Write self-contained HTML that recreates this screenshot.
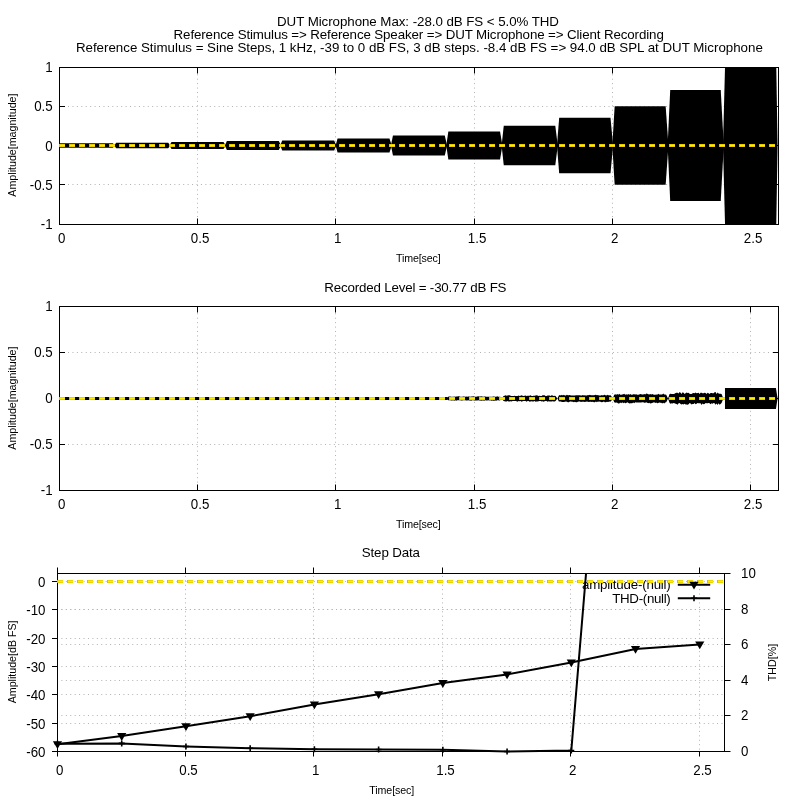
<!DOCTYPE html>
<html lang="en"><head><meta charset="utf-8"><title>DUT Microphone Max</title>
<style>html,body{margin:0;padding:0;background:#fff}svg{display:block}text{font-family:'Liberation Sans', Arial, sans-serif;font-size:13.33px;fill:#000}.s{font-size:10.67px}.m{text-anchor:middle}.e{text-anchor:end}.g{stroke:#b2b2b2;stroke-width:1;stroke-dasharray:1 3.43;fill:none}.b{stroke:#000;stroke-width:1;fill:none}.y{stroke:#dfc000;stroke-width:3;stroke-dasharray:6 4;fill:none}.y2{stroke:#fff000;stroke-width:1.4;stroke-dasharray:5 5;stroke-dashoffset:-0.5;fill:none}</style></head><body>
<svg width="800" height="800" viewBox="0 0 800 800">
<rect width="800" height="800" fill="#fff"/>
<text x="277" y="26.1" textLength="282">DUT Microphone Max: -28.0 dB FS &lt; 5.0% THD</text>
<text x="173.6" y="39.15" textLength="490.2">Reference Stimulus =&gt; Reference Speaker =&gt; DUT Microphone =&gt; Client Recording</text>
<text x="75.9" y="51.6" textLength="686.9">Reference Stimulus = Sine Steps, 1 kHz, -39 to 0 dB FS, 3 dB steps. -8.4 dB FS =&gt; 94.0 dB SPL at DUT Microphone</text>
<g id="chart1">
<path class="g" d="M197.50 69.85V223.5"/>
<path class="g" d="M335.50 69.85V223.5"/>
<path class="g" d="M474.50 69.85V223.5"/>
<path class="g" d="M612.50 69.85V223.5"/>
<path class="g" d="M750.50 69.85V223.5"/>
<path class="g" d="M63.60 106.50H777.5"/>
<path class="g" d="M63.60 184.50H777.5"/>
<path class="b" d="M59.50 224.5v-6M59.50 67.5v6M197.50 224.5v-6M197.50 67.5v6M335.50 224.5v-6M335.50 67.5v6M474.50 224.5v-6M474.50 67.5v6M612.50 224.5v-6M612.50 67.5v6M750.50 224.5v-6M750.50 67.5v6M59.5 67.50h5.5M778.5 67.50h-5.5M59.5 106.50h5.5M778.5 106.50h-5.5M59.5 145.50h5.5M778.5 145.50h-5.5M59.5 184.50h5.5M778.5 184.50h-5.5M59.5 224.50h5.5M778.5 224.50h-5.5"/>
<clipPath id="cp1"><rect x="59.5" y="67.5" width="719.0" height="157.0"/></clipPath>
<g clip-path="url(#cp1)" fill="#000">
<path d="M55.10 145.50L57.03 143.30H112.85L115.04 145.50L112.85 147.70H57.03Z"/>
<path d="M114.24 145.50L116.17 142.70H168.19L170.38 145.50L168.19 148.30H116.17Z"/>
<path d="M169.58 145.50L171.52 141.90H223.51L225.72 145.50L223.51 149.10H171.52Z"/>
<path d="M224.92 145.50L226.87 141.00H278.84L281.06 145.50L278.84 150.00H226.87Z"/>
<path d="M280.26 145.50L282.22 140.40H334.17L336.40 145.50L334.17 150.60H282.22Z"/>
<path d="M335.60 145.50L337.58 138.50H389.48L391.74 145.50L389.48 152.50H337.58Z"/>
<path d="M390.94 145.50L392.96 135.60H444.77L447.08 145.50L444.77 155.40H392.96Z"/>
<path d="M446.28 145.50L448.35 131.50H500.05L502.42 145.50L500.05 159.50H448.35Z"/>
<path d="M501.62 145.50L503.76 125.80H555.29L557.76 145.50L555.29 165.20H503.76Z"/>
<path d="M556.96 145.50L559.19 117.65H610.50L613.10 145.50L610.50 173.35H559.19Z"/>
<path d="M612.30 145.50L614.67 106.20H665.66L668.44 145.50L665.66 184.80H614.67Z"/>
<path d="M667.64 145.50L670.21 90.00H720.74L723.78 145.50L720.74 201.00H670.21Z"/>
<path d="M722.98 145.50L725.58 45.50H775.90L777.60 145.50L775.90 245.50H725.58Z"/>
</g>
<rect class="b" x="59.5" y="67.5" width="719.0" height="157.0"/>
<path class="y" d="M59.0 145.50H778.0"/>
<path class="y2" d="M59.5 145.50H778.0"/>
<text class="e" transform="translate(52.70 72.20) scale(1 1.09)">1</text>
<text class="e" transform="translate(52.70 111.20) scale(1 1.09)">0.5</text>
<text class="e" transform="translate(52.70 151.20) scale(1 1.09)">0</text>
<text class="e" transform="translate(52.70 190.20) scale(1 1.09)">-0.5</text>
<text class="e" transform="translate(52.70 229.20) scale(1 1.09)">-1</text>
<text class="m" transform="translate(61.60 242.80) scale(1 1.09)">0</text>
<text class="m" transform="translate(200.10 242.80) scale(1 1.09)">0.5</text>
<text class="m" transform="translate(337.60 242.80) scale(1 1.09)">1</text>
<text class="m" transform="translate(477.10 242.80) scale(1 1.09)">1.5</text>
<text class="m" transform="translate(614.60 242.80) scale(1 1.09)">2</text>
<text class="m" transform="translate(753.10 242.80) scale(1 1.09)">2.5</text>
<text class="s" x="395.9" y="261.90" textLength="44.9">Time[sec]</text>
<text class="s m" transform="translate(15.8 145.10) rotate(-90)">Amplitude[magnitude]</text>
</g>
<g id="chart2">
<path class="g" d="M197.50 308.85V489.5"/>
<path class="g" d="M335.50 308.85V489.5"/>
<path class="g" d="M474.50 308.85V489.5"/>
<path class="g" d="M612.50 308.85V489.5"/>
<path class="g" d="M750.50 308.85V489.5"/>
<path class="g" d="M63.60 352.50H777.5"/>
<path class="g" d="M63.60 444.50H777.5"/>
<path class="b" d="M59.50 490.5v-6M59.50 306.5v6M197.50 490.5v-6M197.50 306.5v6M335.50 490.5v-6M335.50 306.5v6M474.50 490.5v-6M474.50 306.5v6M612.50 490.5v-6M612.50 306.5v6M750.50 490.5v-6M750.50 306.5v6M59.5 306.50h5.5M778.5 306.50h-5.5M59.5 352.50h5.5M778.5 352.50h-5.5M59.5 398.50h5.5M778.5 398.50h-5.5M59.5 444.50h5.5M778.5 444.50h-5.5M59.5 490.50h5.5M778.5 490.50h-5.5"/>
<clipPath id="cp2"><rect x="59.5" y="306.5" width="719.0" height="184.0"/></clipPath>
<g clip-path="url(#cp2)" fill="#000">
<path d="M54.50 397.00H115.64V400.00H54.50Z"/>
<path d="M113.64 397.00H170.98V400.00H113.64Z"/>
<path d="M168.98 397.00H226.32V400.00H168.98Z"/>
<path d="M224.32 397.00H281.66V400.00H224.32Z"/>
<path d="M279.66 397.00H337.00V400.00H279.66Z"/>
<path d="M335.00 396.95H392.34V400.05H335.00Z"/>
<path d="M390.34 396.90H447.68V400.10H390.34Z"/>
<path d="M446.68 398.50L448.20 396.75L449.20 396.49L450.20 396.55L451.20 396.74L452.20 396.75L453.20 396.74L454.21 396.61L455.21 396.73L456.21 396.50L457.21 396.53L458.21 396.27L459.21 396.35L460.21 396.72L461.21 396.66L462.21 396.71L463.21 396.49L464.21 396.55L465.21 396.74L466.22 396.47L467.22 396.66L468.22 396.60L469.22 396.40L470.22 396.69L471.22 396.56L472.22 396.44L473.22 396.26L474.22 396.61L475.22 396.72L476.22 396.75L477.22 396.42L478.22 396.34L479.23 396.46L480.23 396.53L481.23 396.37L482.23 396.59L483.23 396.74L484.23 396.49L485.23 396.38L486.23 396.63L487.23 396.75L488.23 396.72L489.23 396.74L490.23 396.73L491.23 396.63L492.24 396.74L493.24 396.55L494.24 396.38L495.24 396.68L496.24 396.64L497.24 396.28L498.24 396.71L499.24 396.69L500.24 396.75L502.02 398.50L500.24 400.25L499.24 400.42L498.24 400.31L497.24 400.28L496.24 400.67L495.24 400.38L494.24 400.65L493.24 400.67L492.24 400.40L491.23 400.66L490.23 400.31L489.23 400.59L488.23 400.27L487.23 400.41L486.23 400.52L485.23 400.33L484.23 400.74L483.23 400.54L482.23 400.52L481.23 400.71L480.23 400.40L479.23 400.48L478.22 400.34L477.22 400.47L476.22 400.52L475.22 400.42L474.22 400.58L473.22 400.27L472.22 400.33L471.22 400.66L470.22 400.47L469.22 400.54L468.22 400.33L467.22 400.47L466.22 400.39L465.21 400.30L464.21 400.26L463.21 400.36L462.21 400.47L461.21 400.62L460.21 400.27L459.21 400.33L458.21 400.26L457.21 400.37L456.21 400.71L455.21 400.30L454.21 400.63L453.20 400.26L452.20 400.39L451.20 400.43L450.20 400.36L449.20 400.26L448.20 400.25Z"/>
<path d="M502.02 398.50L503.55 396.00L504.55 395.82L505.55 395.26L506.55 395.70L507.55 395.56L508.55 395.32L509.55 395.35L510.55 395.80L511.55 395.97L512.55 395.99L513.55 395.92L514.55 395.84L515.55 396.00L516.56 395.97L517.56 396.00L518.56 395.62L519.56 395.90L520.56 395.82L521.56 395.37L522.56 395.75L523.56 395.98L524.56 395.84L525.56 395.40L526.56 396.00L527.56 395.69L528.56 395.68L529.56 395.69L530.56 395.36L531.56 395.89L532.56 395.95L533.56 395.69L534.56 395.85L535.56 395.42L536.56 395.37L537.56 395.41L538.56 395.91L539.56 395.83L540.56 396.00L541.56 395.89L542.56 395.25L543.57 395.27L544.57 395.25L545.57 395.92L546.57 395.93L547.57 395.61L548.57 395.38L549.57 395.58L550.57 395.98L551.57 395.31L552.57 395.48L553.57 395.94L554.57 395.85L555.57 396.00L557.36 398.50L555.57 401.00L554.57 401.57L553.57 401.56L552.57 401.26L551.57 401.55L550.57 401.43L549.57 401.57L548.57 401.27L547.57 401.68L546.57 401.07L545.57 401.09L544.57 401.18L543.57 401.79L542.56 401.24L541.56 401.46L540.56 401.12L539.56 401.00L538.56 401.30L537.56 401.51L536.56 401.58L535.56 401.78L534.56 401.08L533.56 401.55L532.56 401.54L531.56 401.18L530.56 401.46L529.56 401.77L528.56 401.00L527.56 401.04L526.56 401.74L525.56 401.05L524.56 401.11L523.56 401.03L522.56 401.27L521.56 401.79L520.56 401.03L519.56 401.16L518.56 401.05L517.56 401.65L516.56 401.18L515.55 401.05L514.55 401.01L513.55 401.05L512.55 401.01L511.55 401.40L510.55 401.20L509.55 401.57L508.55 401.55L507.55 401.01L506.55 401.39L505.55 401.46L504.55 401.34L503.55 401.00Z"/>
<path d="M557.36 398.50L558.89 395.60L559.89 395.04L560.90 395.56L561.90 394.83L562.90 395.55L563.90 394.73L564.90 395.41L565.90 395.56L566.90 394.74L567.90 395.26L568.90 395.34L569.90 394.92L570.90 395.49L571.90 395.49L572.90 395.48L573.90 395.56L574.90 395.41L575.90 395.20L576.90 395.35L577.90 395.28L578.90 395.26L579.90 395.34L580.90 395.60L581.90 395.54L582.90 395.04L583.90 395.43L584.90 395.23L585.90 395.57L586.90 395.49L587.90 394.99L588.90 395.22L589.90 394.82L590.90 395.17L591.90 395.27L592.90 395.33L593.90 395.30L594.90 395.07L595.90 394.78L596.90 395.22L597.90 394.91L598.90 395.56L599.90 395.58L600.90 395.58L601.90 394.98L602.90 395.55L603.90 395.12L604.90 394.85L605.90 395.51L606.90 395.37L607.90 394.71L608.90 395.54L609.90 395.27L610.90 395.60L612.70 398.50L610.90 401.40L609.90 401.58L608.90 401.66L607.90 402.08L606.90 401.71L605.90 402.24L604.90 402.26L603.90 401.45L602.90 401.95L601.90 402.16L600.90 401.89L599.90 401.51L598.90 401.66L597.90 401.45L596.90 402.22L595.90 401.52L594.90 402.14L593.90 402.22L592.90 401.75L591.90 401.92L590.90 401.72L589.90 401.67L588.90 402.00L587.90 401.73L586.90 401.53L585.90 401.78L584.90 402.03L583.90 401.74L582.90 401.77L581.90 401.69L580.90 402.04L579.90 401.47L578.90 401.40L577.90 401.75L576.90 402.19L575.90 402.17L574.90 401.68L573.90 402.18L572.90 401.64L571.90 401.80L570.90 401.54L569.90 401.49L568.90 402.13L567.90 402.21L566.90 401.87L565.90 401.40L564.90 401.77L563.90 401.88L562.90 402.08L561.90 402.05L560.90 401.45L559.89 401.46L558.89 401.40Z"/>
<path d="M612.70 398.50L614.25 394.70L615.25 394.21L616.24 394.70L617.24 394.11L618.24 394.68L619.24 393.86L620.24 394.66L621.24 394.69L622.24 394.53L623.24 394.37L624.24 393.81L625.24 394.63L626.24 394.18L627.24 394.67L628.24 394.01L629.24 394.68L630.24 394.09L631.24 394.67L632.24 394.68L633.24 394.33L634.24 394.21L635.24 394.53L636.24 394.24L637.24 394.66L638.24 394.69L639.24 394.49L640.24 393.91L641.24 394.28L642.24 394.45L643.24 394.55L644.24 393.95L645.24 394.60L646.24 393.62L647.24 393.81L648.23 394.28L649.23 394.40L650.23 394.02L651.23 394.46L652.23 393.99L653.23 394.39L654.23 394.68L655.23 394.68L656.23 394.54L657.23 394.67L658.23 393.73L659.23 394.52L660.23 394.51L661.23 394.62L662.23 394.54L663.23 393.55L664.23 394.55L665.23 394.49L666.23 394.70L668.04 398.50L666.23 402.30L665.23 402.56L664.23 403.44L663.23 402.79L662.23 403.43L661.23 402.66L660.23 402.67L659.23 402.44L658.23 402.96L657.23 403.23L656.23 402.38L655.23 403.07L654.23 402.36L653.23 402.55L652.23 402.91L651.23 403.21L650.23 403.47L649.23 402.73L648.23 403.21L647.24 402.64L646.24 402.34L645.24 402.69L644.24 402.79L643.24 402.30L642.24 402.30L641.24 402.39L640.24 402.49L639.24 402.50L638.24 402.41L637.24 402.38L636.24 402.44L635.24 402.36L634.24 403.37L633.24 402.54L632.24 403.26L631.24 403.25L630.24 403.16L629.24 403.39L628.24 402.63L627.24 402.32L626.24 403.00L625.24 403.36L624.24 402.46L623.24 403.34L622.24 402.36L621.24 403.13L620.24 402.46L619.24 403.45L618.24 403.47L617.24 402.74L616.24 402.53L615.25 402.65L614.25 402.30Z"/>
<path d="M668.04 398.50L669.59 394.00L670.59 393.82L671.59 394.00L672.59 393.95L673.59 393.98L674.59 393.66L675.59 393.10L676.59 392.70L677.59 392.79L678.59 393.51L679.59 392.05L680.59 392.77L681.59 393.98L682.58 392.32L683.58 392.74L684.58 393.90L685.58 393.28L686.58 392.56L687.58 393.11L688.58 392.87L689.58 393.78L690.58 393.90L691.58 393.93L692.58 393.17L693.58 393.01L694.58 393.32L695.58 392.58L696.58 393.29L697.57 392.93L698.57 392.74L699.57 393.96L700.57 392.75L701.57 392.73L702.57 393.31L703.57 393.34L704.57 392.66L705.57 392.97L706.57 393.89L707.57 392.72L708.57 393.14L709.57 393.97L710.57 392.90L711.56 392.89L712.56 393.26L713.56 393.36L714.56 392.31L715.56 392.07L716.56 394.00L717.56 392.52L718.56 393.40L719.56 393.81L720.56 393.81L721.56 394.00L723.38 398.50L721.56 403.00L720.56 403.89L719.56 404.84L718.56 403.28L717.56 404.91L716.56 403.62L715.56 404.81L714.56 403.18L713.56 403.08L712.56 403.63L711.56 403.31L710.57 404.15L709.57 403.28L708.57 403.00L707.57 403.34L706.57 403.26L705.57 403.04L704.57 403.97L703.57 404.13L702.57 403.47L701.57 404.93L700.57 403.19L699.57 403.27L698.57 403.25L697.57 403.03L696.58 403.78L695.58 404.29L694.58 403.00L693.58 404.12L692.58 403.99L691.58 404.53L690.58 403.43L689.58 403.01L688.58 404.15L687.58 404.69L686.58 404.50L685.58 404.53L684.58 403.76L683.58 404.46L682.58 403.99L681.59 404.53L680.59 404.03L679.59 403.12L678.59 403.37L677.59 404.65L676.59 404.07L675.59 403.77L674.59 403.22L673.59 403.01L672.59 403.51L671.59 403.27L670.59 403.72L669.59 403.00Z"/>
<path d="M724.98 388.10H775.90L777.60 398.50L775.90 408.90H724.98Z"/>
</g>
<rect class="b" x="59.5" y="306.5" width="719.0" height="184.0"/>
<path class="y" d="M59.0 398.50H778.0"/>
<path class="y2" d="M59.5 398.50H778.0"/>
<text class="e" transform="translate(52.70 311.20) scale(1 1.09)">1</text>
<text class="e" transform="translate(52.70 357.20) scale(1 1.09)">0.5</text>
<text class="e" transform="translate(52.70 403.20) scale(1 1.09)">0</text>
<text class="e" transform="translate(52.70 449.20) scale(1 1.09)">-0.5</text>
<text class="e" transform="translate(52.70 495.20) scale(1 1.09)">-1</text>
<text class="m" transform="translate(61.60 508.80) scale(1 1.09)">0</text>
<text class="m" transform="translate(200.10 508.80) scale(1 1.09)">0.5</text>
<text class="m" transform="translate(337.60 508.80) scale(1 1.09)">1</text>
<text class="m" transform="translate(477.10 508.80) scale(1 1.09)">1.5</text>
<text class="m" transform="translate(614.60 508.80) scale(1 1.09)">2</text>
<text class="m" transform="translate(753.10 508.80) scale(1 1.09)">2.5</text>
<text class="s" x="395.9" y="527.90" textLength="44.9">Time[sec]</text>
<text class="s m" transform="translate(15.8 398.10) rotate(-90)">Amplitude[magnitude]</text>
<text x="324.2" y="291.90" textLength="182.3">Recorded Level = -30.77 dB FS</text>
</g>
<g id="chart3">
<path class="g" d="M185.50 575.85V750.5"/>
<path class="g" d="M313.50 575.85V750.5"/>
<path class="g" d="M442.50 575.85V750.5"/>
<path class="g" d="M570.50 575.85V750.5"/>
<path class="g" d="M699.50 575.85V750.5"/>
<path class="g" d="M61.4 609.50H723.5"/>
<path class="g" d="M61.4 638.50H723.5"/>
<path class="g" d="M61.4 666.50H723.5"/>
<path class="g" d="M61.4 694.50H723.5"/>
<path class="g" d="M61.4 723.50H723.5"/>
<path class="g" d="M61.4 715.50H723.5"/>
<path class="g" d="M61.4 680.50H723.5"/>
<path class="g" d="M61.4 644.50H723.5"/>
<path class="g" d="M61.4 609.50H723.5"/>
<path class="g" d="M61.4 581.50H723.5"/>
<rect class="b" x="57.5" y="573.5" width="667.0" height="178.0"/>
<path class="b" d="M57.50 751.5v5M57.50 573.5v-6M185.50 751.5v5M185.50 573.5v-6M313.50 751.5v5M313.50 573.5v-6M442.50 751.5v5M442.50 573.5v-6M570.50 751.5v5M570.50 573.5v-6M699.50 751.5v5M699.50 573.5v-6M57.5 581.50h-5.5M57.5 609.50h-5.5M57.5 638.50h-5.5M57.5 666.50h-5.5M57.5 694.50h-5.5M57.5 723.50h-5.5M57.5 751.50h-5.5M724.5 751.50h6M724.5 715.50h6M724.5 680.50h6M724.5 644.50h6M724.5 609.50h6M724.5 573.50h6"/>
<text class="e" transform="translate(45.50 587.30) scale(1 1.09)">0</text>
<text class="e" transform="translate(45.50 615.30) scale(1 1.09)">-10</text>
<text class="e" transform="translate(45.50 644.30) scale(1 1.09)">-20</text>
<text class="e" transform="translate(45.50 672.30) scale(1 1.09)">-30</text>
<text class="e" transform="translate(45.50 700.30) scale(1 1.09)">-40</text>
<text class="e" transform="translate(45.50 729.30) scale(1 1.09)">-50</text>
<text class="e" transform="translate(45.50 757.30) scale(1 1.09)">-60</text>
<text transform="translate(741.00 756.40) scale(1 1.09)">0</text>
<text transform="translate(741.00 720.40) scale(1 1.09)">2</text>
<text transform="translate(741.00 685.40) scale(1 1.09)">4</text>
<text transform="translate(741.00 649.40) scale(1 1.09)">6</text>
<text transform="translate(741.00 614.40) scale(1 1.09)">8</text>
<text transform="translate(741.00 578.40) scale(1 1.09)">10</text>
<text class="m" transform="translate(59.70 775.10) scale(1 1.09)">0</text>
<text class="m" transform="translate(188.50 775.10) scale(1 1.09)">0.5</text>
<text class="m" transform="translate(315.70 775.10) scale(1 1.09)">1</text>
<text class="m" transform="translate(445.50 775.10) scale(1 1.09)">1.5</text>
<text class="m" transform="translate(572.70 775.10) scale(1 1.09)">2</text>
<text class="m" transform="translate(702.50 775.10) scale(1 1.09)">2.5</text>
<text x="361.8" y="557.4" textLength="58.2">Step Data</text>
<text class="s" x="369.3" y="793.8" textLength="44.9">Time[sec]</text>
<text class="s m" transform="translate(15.6 661.9) rotate(-90)">Amplitude[dB FS]</text>
<text class="s m" transform="translate(776 662.5) rotate(-90)">THD[%]</text>
<text x="582" y="589.3" textLength="88.8">amplitude-(null)</text>
<text x="612.2" y="602.5" textLength="58.6">THD-(null)</text>
<path class="y" d="M57.0 581.50H724.0" style="stroke:#d9bc00"/>
<path class="y2" d="M57.5 581.50H724.0" style="stroke-width:1.8"/>
<clipPath id="cp3"><rect x="52.5" y="573.5" width="677.0" height="184.0"/></clipPath>
<g clip-path="url(#cp3)">
<polyline points="57.50,744.30 121.72,736.10 185.95,726.30 250.17,716.30 314.40,704.50 378.62,694.30 442.85,683.10 507.07,674.50 571.30,662.50 635.52,648.90 699.75,644.50" fill="none" stroke="#000" stroke-width="2"/>
<path d="M52.90 741.30h9.2l-4.6 7.8z" fill="#000"/>
<path d="M117.12 733.10h9.2l-4.6 7.8z" fill="#000"/>
<path d="M181.35 723.30h9.2l-4.6 7.8z" fill="#000"/>
<path d="M245.57 713.30h9.2l-4.6 7.8z" fill="#000"/>
<path d="M309.80 701.50h9.2l-4.6 7.8z" fill="#000"/>
<path d="M374.02 691.30h9.2l-4.6 7.8z" fill="#000"/>
<path d="M438.25 680.10h9.2l-4.6 7.8z" fill="#000"/>
<path d="M502.47 671.50h9.2l-4.6 7.8z" fill="#000"/>
<path d="M566.70 659.50h9.2l-4.6 7.8z" fill="#000"/>
<path d="M630.92 645.90h9.2l-4.6 7.8z" fill="#000"/>
<path d="M695.15 641.50h9.2l-4.6 7.8z" fill="#000"/>
<polyline points="57.50,743.70 121.72,743.40 185.95,746.50 250.17,748.20 314.40,749.30 378.62,749.50 442.85,749.80 507.07,751.50 571.30,750.60 586.2,571.5" fill="none" stroke="#000" stroke-width="2"/>
<path d="M54.50 743.70h6M57.50 740.70v6" stroke="#000" stroke-width="1.6" fill="none"/>
<path d="M118.72 743.40h6M121.72 740.40v6" stroke="#000" stroke-width="1.6" fill="none"/>
<path d="M182.95 746.50h6M185.95 743.50v6" stroke="#000" stroke-width="1.6" fill="none"/>
<path d="M247.17 748.20h6M250.17 745.20v6" stroke="#000" stroke-width="1.6" fill="none"/>
<path d="M311.40 749.30h6M314.40 746.30v6" stroke="#000" stroke-width="1.6" fill="none"/>
<path d="M375.62 749.50h6M378.62 746.50v6" stroke="#000" stroke-width="1.6" fill="none"/>
<path d="M439.85 749.80h6M442.85 746.80v6" stroke="#000" stroke-width="1.6" fill="none"/>
<path d="M504.07 751.50h6M507.07 748.50v6" stroke="#000" stroke-width="1.6" fill="none"/>
<path d="M568.30 750.60h6M571.30 747.60v6" stroke="#000" stroke-width="1.6" fill="none"/>
</g>
<path d="M677.8 584.8H710.2" stroke="#000" stroke-width="2"/><path d="M689.40 581.80h9.2l-4.6 7.8z" fill="#000"/>
<path d="M677.8 598.3H710.2" stroke="#000" stroke-width="2"/><path d="M691.00 598.30h6M694.00 595.30v6" stroke="#000" stroke-width="1.6" fill="none"/>
</g>
</svg></body></html>
